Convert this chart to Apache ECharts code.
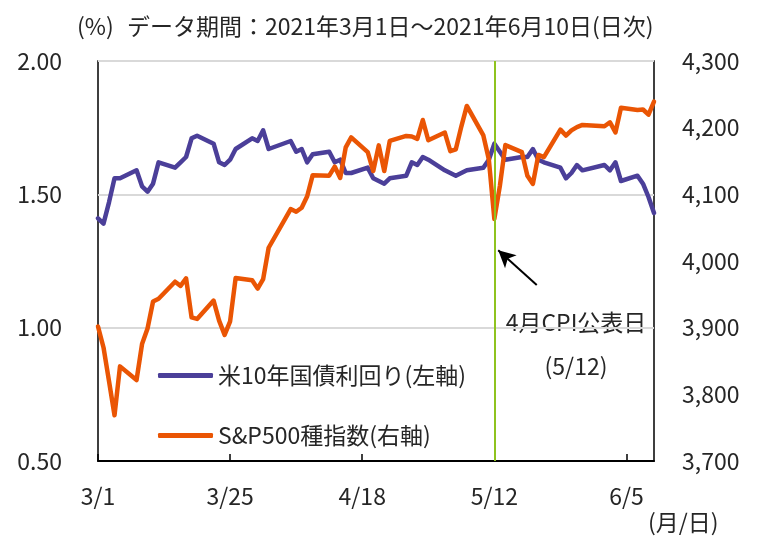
<!DOCTYPE html>
<html>
<head>
<meta charset="utf-8">
<script src="https://cdn.jsdelivr.net/npm/echarts@6/dist/echarts.min.js"></script>
<style>
  html, body { margin: 0; padding: 0; background: #fff; }
  #main { width: 763px; height: 539px; }
</style>
</head>
<body>
<div id="main"></div>
<script>
// 営業日（2021年、月/日）
const dates = [
  '3/1','3/2','3/3','3/4','3/5','3/8','3/9','3/10','3/11','3/12',
  '3/15','3/16','3/17','3/18','3/19','3/22','3/23','3/24','3/25','3/26',
  '3/29','3/30','3/31',
  '4/1','4/5','4/6','4/7','4/8','4/9','4/12','4/13','4/14','4/15','4/16',
  '4/19','4/20','4/21','4/22','4/23','4/26','4/27','4/28','4/29','4/30',
  '5/3','5/4','5/5','5/6','5/7','5/10','5/11','5/12','5/13','5/14',
  '5/17','5/18','5/19','5/20','5/21','5/24','5/25','5/26','5/27','5/28',
  '6/1','6/2','6/3','6/4','6/7','6/8','6/9','6/10'
];
// 米10年国債利回り（%）
const yield10 = [
  1.41, 1.39, 1.47, 1.56, 1.56, 1.59, 1.53, 1.51, 1.54, 1.62,
  1.60, 1.62, 1.64, 1.71, 1.72, 1.69, 1.62, 1.61, 1.63, 1.67,
  1.71, 1.70, 1.74,
  1.67, 1.70, 1.66, 1.67, 1.62, 1.65, 1.66, 1.62, 1.63, 1.58, 1.58,
  1.60, 1.56, 1.55, 1.54, 1.56, 1.57, 1.62, 1.61, 1.64, 1.63,
  1.59, 1.58, 1.57, 1.58, 1.59, 1.60, 1.63, 1.69, 1.66, 1.63,
  1.64, 1.64, 1.67, 1.63, 1.62, 1.60, 1.56, 1.58, 1.61, 1.59,
  1.61, 1.59, 1.62, 1.55, 1.57, 1.54, 1.49, 1.43
];
// S&P500種指数
const spx = [
  3901.82, 3870.29, 3819.72, 3768.47, 3841.94, 3821.35, 3875.44, 3898.81, 3939.34, 3943.34,
  3968.94, 3962.71, 3974.12, 3915.46, 3913.10, 3940.59, 3910.52, 3889.14, 3909.52, 3974.54,
  3971.09, 3958.55, 3972.89,
  4019.87, 4077.91, 4073.94, 4079.95, 4097.17, 4128.80, 4127.99, 4141.59, 4124.66, 4170.42, 4185.47,
  4163.26, 4134.94, 4173.42, 4134.98, 4180.17, 4187.62, 4186.72, 4183.18, 4211.47, 4181.17,
  4192.66, 4164.66, 4167.59, 4201.62, 4232.60, 4188.43, 4152.10, 4063.04, 4112.50, 4173.85,
  4163.29, 4127.83, 4115.68, 4159.12, 4155.86, 4197.05, 4188.13, 4195.99, 4200.88, 4204.11,
  4202.04, 4208.12, 4192.85, 4229.89, 4226.52, 4227.26, 4219.55, 4239.18
];
const cpiDay = '5/12';

const FONT = "'Noto Sans CJK JP', 'Noto Sans', sans-serif";
const TXT = '#262626';
const FS = 23;
const start = new Date(2021, 2, 1);

// 3/1 からの日数
function dayOf(s) {
  const [m, d] = s.split('/').map(Number);
  return Math.round((new Date(2021, m - 1, d) - start) / 864e5);
}

var myChart = echarts.init(document.getElementById('main'));

let o = {
  backgroundColor: '#fff',
  animation: false,
  textStyle: { fontFamily: FONT },
  grid: {
    left: 98, right: 109, top: 61, bottom: 78,
    show: true, borderColor: '#000', borderWidth: 1.5, backgroundColor: 'transparent'
  },
  legend: {
    orient: 'vertical',
    left: 153, top: 358,
    itemGap: 35,
    itemWidth: 55, itemHeight: 5,
    icon: 'roundRect',
    textStyle: { fontFamily: FONT, fontSize: FS, color: TXT, lineHeight: 25 },
    data: ['米10年国債利回り(左軸)', 'S&P500種指数(右軸)']
  },
  xAxis: {
    type: 'value', min: 0, max: 101, interval: 24,
    axisLine: { show: true, lineStyle: { color: '#000', width: 2 } },
    axisTick: { show: true, inside: true, length: 7, lineStyle: { color: '#000', width: 1.5 } },
    splitLine: { show: false },
    axisLabel: {
      margin: 24, fontSize: FS, color: TXT, fontFamily: FONT, showMaxLabel: false,
      formatter: function (v) {
        if (v % 24) return '';
        const dt = new Date(2021, 2, 1 + v);
        return (dt.getMonth() + 1) + '/' + dt.getDate();
      }
    }
  },
  yAxis: [
    {
      type: 'value', min: 0.5, max: 2.0, interval: 0.5,
      axisLine: { show: false }, axisTick: { show: false },
      splitLine: { show: true, lineStyle: { color: '#d9d9d9', width: 2 } },
      axisLabel: { margin: 36, fontSize: FS, color: TXT, fontFamily: FONT,
        formatter: v => v.toFixed(2) }
    },
    {
      type: 'value', min: 3700, max: 4300, interval: 100,
      axisLine: { show: false }, axisTick: { show: false },
      splitLine: { show: false },
      axisLabel: { margin: 28, fontSize: FS, color: TXT, fontFamily: FONT,
        formatter: v => v.toLocaleString('en-US') }
    }
  ],
  series: [
    {
      name: '米10年国債利回り(左軸)',
      type: 'line', yAxisIndex: 0,
      data: dates.map((d, i) => [dayOf(d), yield10[i]]),
      showSymbol: false,
      lineStyle: { color: '#4b3f99', width: 4.5, join: 'round', cap: 'round' },
      itemStyle: { color: '#4b3f99' },
      markLine: {
        silent: true, symbol: ['none', 'none'],
        label: { show: false },
        lineStyle: { color: '#8fc31f', width: 2, type: 'solid' },
        data: [{ xAxis: dayOf(cpiDay) }]
      },
      z: 3
    },
    {
      name: 'S&P500種指数(右軸)',
      type: 'line', yAxisIndex: 1,
      data: dates.map((d, i) => [dayOf(d), spx[i]]),
      showSymbol: false,
      lineStyle: { color: '#ea5504', width: 4.5, join: 'round', cap: 'round' },
      itemStyle: { color: '#ea5504' },
      markLine: {
        silent: true, symbol: ['none', 'arrow'], symbolSize: [13, 17],
        label: { show: false },
        lineStyle: { color: '#000', width: 2, type: 'solid' },
        data: [[{ coord: [79.7, 3964] }, { coord: [72.7, 4016] }]]
      },
      z: 4
    }
  ],
  graphic: [
    { type: 'text', left: 77, top: 15, style: { text: '(%)', font: FS + 'px ' + FONT, fill: TXT } },
    { type: 'text', left: 127, top: 15, style: { text: 'データ期間：2021年3月1日～2021年6月10日(日次)', font: FS + 'px ' + FONT, fill: TXT } },
    { type: 'text', left: 648, top: 511, style: { text: '(月/日)', font: FS + 'px ' + FONT, fill: TXT } },
    { type: 'text', x: 576, y: 322, style: { text: '4月CPI公表日', font: FS + 'px ' + FONT, fill: TXT, align: 'center', verticalAlign: 'middle' } },
    { type: 'text', x: 576, y: 366, style: { text: '(5/12)', font: FS + 'px ' + FONT, fill: TXT, align: 'center', verticalAlign: 'middle' } }
  ]
};

myChart.setOption(o);
</script>
</body>
</html>
